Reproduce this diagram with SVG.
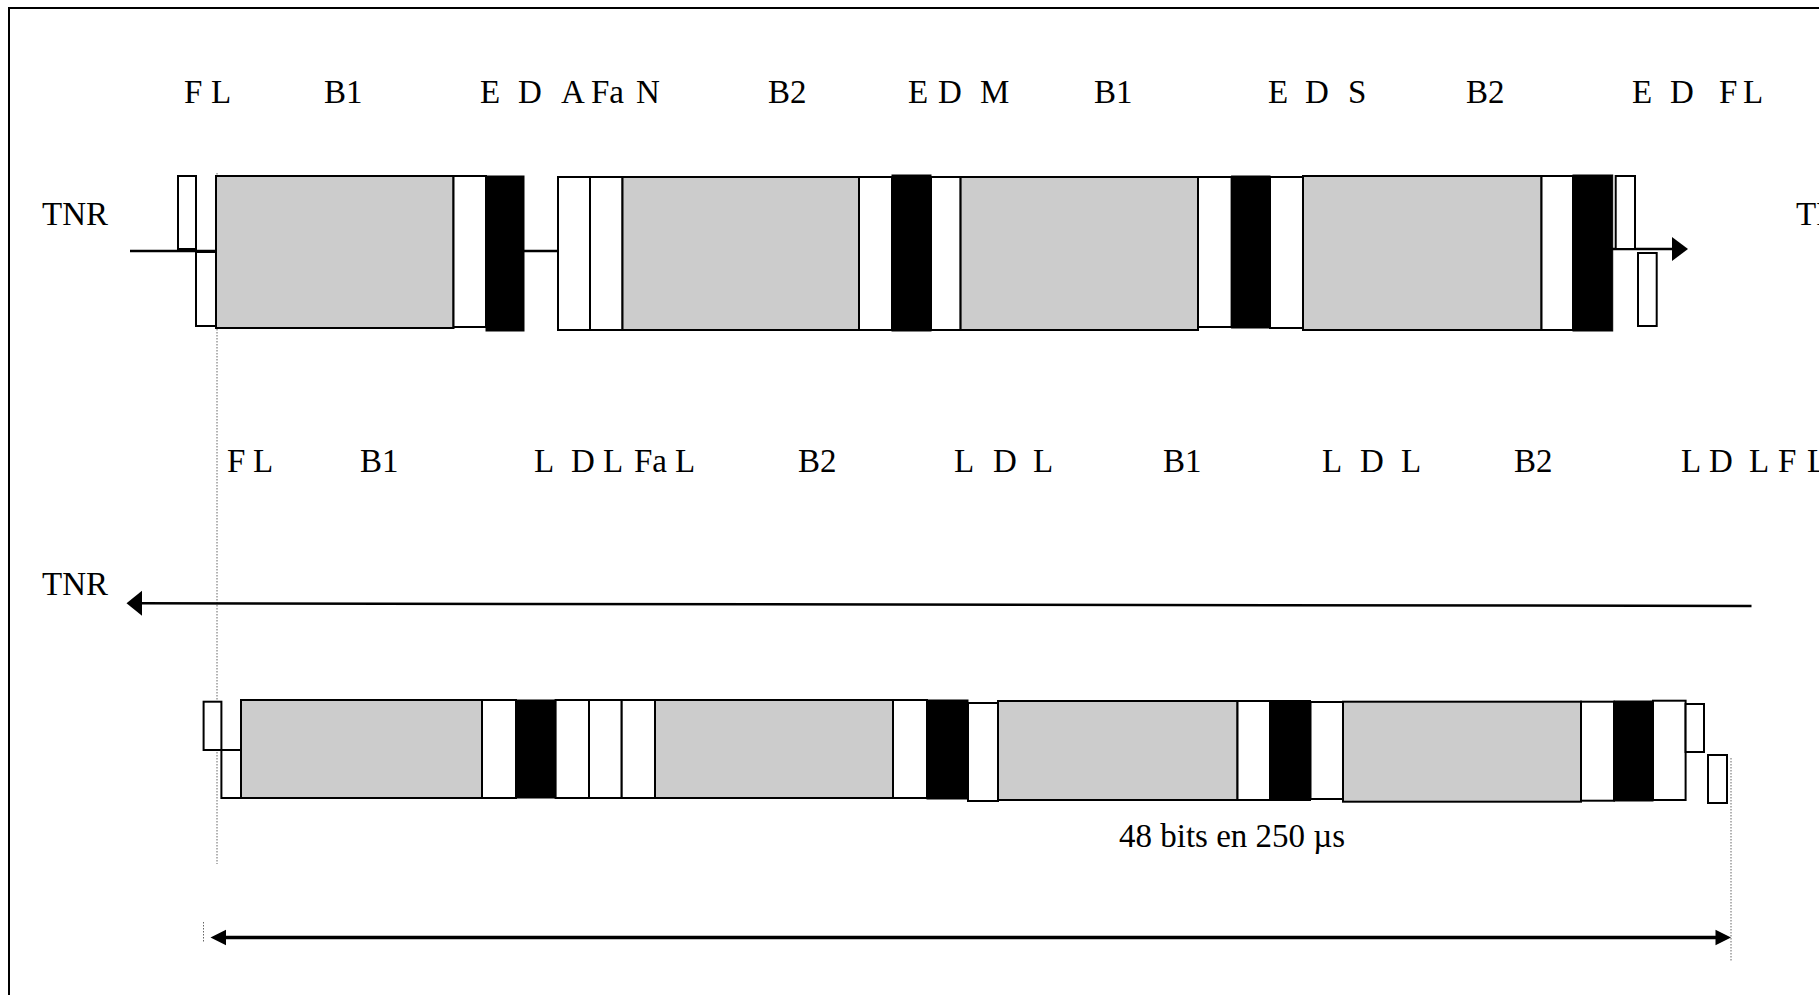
<svg xmlns="http://www.w3.org/2000/svg" width="1819" height="995" viewBox="0 0 1819 995">
<style>
  text { font-family: "Liberation Serif", "Times New Roman", serif; font-size: 33px; fill: #000; }
  .g { fill: #cccccc; stroke: #000; stroke-width: 2; }
  .w { fill: #ffffff; stroke: #000; stroke-width: 2; }
  .b { fill: #000000; stroke: #000; stroke-width: 1; }
  .ln { stroke: #000; stroke-width: 2.5; fill: none; }
  .dot { stroke: #666; stroke-width: 1; stroke-dasharray: 1.5 1.5; fill: none; }
  .ah { fill: #000; stroke: none; }
</style>
<rect width="1819" height="995" fill="#ffffff"/>
<rect id="frame" x="9" y="8" width="1860" height="1060" fill="none" stroke="#000" stroke-width="2"/>

<g id="labels-top">
  <text y="103"><tspan x="184">F</tspan><tspan x="211">L</tspan><tspan x="324">B1</tspan><tspan x="480">E</tspan><tspan x="518">D</tspan><tspan x="561">A</tspan><tspan x="591">Fa</tspan><tspan x="636">N</tspan><tspan x="768">B2</tspan><tspan x="908">E</tspan><tspan x="938">D</tspan><tspan x="980">M</tspan><tspan x="1094">B1</tspan><tspan x="1268">E</tspan><tspan x="1305">D</tspan><tspan x="1348">S</tspan><tspan x="1466">B2</tspan><tspan x="1632">E</tspan><tspan x="1670">D</tspan><tspan x="1719">F</tspan><tspan x="1743">L</tspan></text>
</g>
<g id="labels-bottom">
  <text y="472"><tspan x="227">F</tspan><tspan x="253">L</tspan><tspan x="360">B1</tspan><tspan x="534">L</tspan><tspan x="571">D</tspan><tspan x="603">L</tspan><tspan x="634">Fa</tspan><tspan x="675">L</tspan><tspan x="798">B2</tspan><tspan x="954">L</tspan><tspan x="993">D</tspan><tspan x="1033">L</tspan><tspan x="1163">B1</tspan><tspan x="1322">L</tspan><tspan x="1360">D</tspan><tspan x="1401">L</tspan><tspan x="1514">B2</tspan><tspan x="1681">L</tspan><tspan x="1709">D</tspan><tspan x="1749">L</tspan><tspan x="1778">F</tspan><tspan x="1807">L</tspan></text>
</g>
<g id="tnr-left-top"><text x="42" y="225">TNR</text></g>
<g id="tnr-right-top"><text x="1796" y="225">TNR</text></g>
<g id="tnr-left-bottom"><text x="42" y="595">TNR</text></g>
<g id="duration-label"><text x="1119" y="847">48 bits en 250 µs</text></g>

<g id="connectors">
  <line class="dot" x1="217" y1="173" x2="217" y2="864"/>
  <line class="dot" x1="1731" y1="758" x2="1731" y2="962"/>
  <line class="dot" x1="203.5" y1="922" x2="203.5" y2="943"/>
  <line class="ln" x1="130" y1="251" x2="216" y2="251"/>
  <line class="ln" x1="524" y1="251" x2="558" y2="251"/>
  <line class="ln" x1="1612" y1="249" x2="1674" y2="249"/>
  <polygon class="ah" points="1688,249 1672,237 1672,261"/>
  <line class="ln" x1="1751.5" y1="606" x2="141" y2="603.3"/>
  <polygon class="ah" points="126.5,603.3 142,590.8 142,615.8"/>
  <line x1="224" y1="937.5" x2="1717" y2="937.5" stroke="#000" stroke-width="3.5"/>
  <polygon class="ah" points="210.5,937.5 226,929.7 226,945.3"/>
  <polygon class="ah" points="1731,937.5 1715.5,929.7 1715.5,945.3"/>
</g>

<g id="frame-top">
  <rect class="w" x="178" y="176" width="18" height="73"/>
  <rect class="w" x="196" y="252" width="20" height="74"/>
  <rect class="g" x="216" y="176" width="237.5" height="152"/>
  <rect class="w" x="453.5" y="176" width="32.5" height="151"/>
  <rect class="b" x="486" y="176" width="38" height="155"/>
  <rect class="w" x="558" y="177" width="32" height="153"/>
  <rect class="w" x="590" y="177" width="32.5" height="153"/>
  <rect class="g" x="622.5" y="177" width="236.5" height="153"/>
  <rect class="w" x="859" y="177" width="33" height="153"/>
  <rect class="b" x="892" y="175" width="39" height="156"/>
  <rect class="w" x="931" y="177" width="29.6" height="153"/>
  <rect class="g" x="960.6" y="177" width="237.4" height="153"/>
  <rect class="w" x="1198" y="177" width="33.6" height="150"/>
  <rect class="b" x="1231.6" y="176" width="38.4" height="152"/>
  <rect class="w" x="1270" y="177" width="33" height="151"/>
  <rect class="g" x="1303" y="176" width="238.5" height="154"/>
  <rect class="w" x="1541.5" y="176" width="31.5" height="154"/>
  <rect class="b" x="1573" y="175" width="39.7" height="156"/>
  <rect class="w" x="1615.7" y="176" width="19.3" height="73"/>
  <rect class="w" x="1638" y="253" width="18.7" height="73"/>
</g>

<g id="frame-bottom">
  <rect class="w" x="203.6" y="701.7" width="17.8" height="48.3"/>
  <rect class="w" x="221.4" y="750" width="19.6" height="48"/>
  <rect class="g" x="241" y="700" width="241" height="98"/>
  <rect class="w" x="482" y="700" width="34" height="98"/>
  <rect class="b" x="516" y="700" width="39.6" height="98"/>
  <rect class="w" x="555.6" y="700" width="33.4" height="98"/>
  <rect class="w" x="589" y="700" width="32.7" height="98"/>
  <rect class="w" x="621.7" y="700" width="33.3" height="98"/>
  <rect class="g" x="655" y="700" width="238" height="98"/>
  <rect class="w" x="893" y="700" width="34" height="98"/>
  <rect class="b" x="927" y="700" width="41" height="99"/>
  <rect class="w" x="968" y="703" width="30" height="98"/>
  <rect class="g" x="998" y="701" width="239.5" height="99"/>
  <rect class="w" x="1237.5" y="701" width="32.5" height="99"/>
  <rect class="b" x="1270" y="700.5" width="40.5" height="100"/>
  <rect class="w" x="1310.5" y="702" width="32.5" height="97"/>
  <rect class="g" x="1343" y="701.7" width="238" height="100"/>
  <rect class="w" x="1581" y="701.7" width="33" height="99"/>
  <rect class="b" x="1614" y="701" width="39" height="100"/>
  <rect class="w" x="1653" y="700.7" width="32.6" height="99.3"/>
  <rect class="w" x="1685.6" y="704" width="18.4" height="48"/>
  <rect class="w" x="1708" y="755" width="19" height="48"/>
</g>
</svg>
